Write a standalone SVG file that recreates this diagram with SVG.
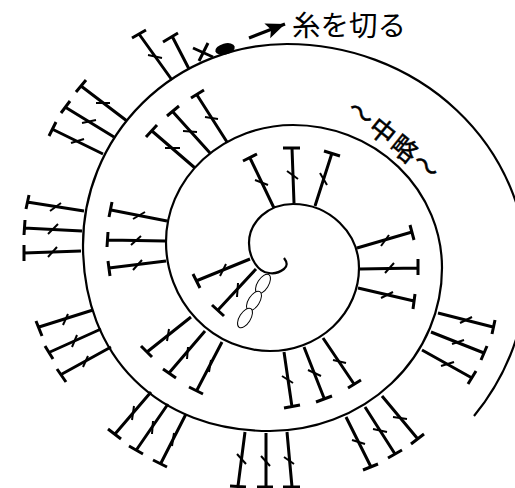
<svg xmlns="http://www.w3.org/2000/svg" width="515" height="488" viewBox="0 0 515 488">
<style>
.s{fill:none;stroke:#000;stroke-width:2.2}
.st{fill:none;stroke:#000;stroke-width:3}
.st2{fill:none;stroke:#000;stroke-width:2}
.ch{fill:#fff;stroke:#000;stroke-width:1}
text{font-family:"Noto Sans CJK JP","Noto Sans",sans-serif;fill:#000}
</style>
<defs>
<marker id="ah" markerUnits="userSpaceOnUse" markerWidth="24" markerHeight="24" refX="19" refY="10" orient="auto">
<path d="M19 10L0 2L4 10L0 18Z" fill="#000"/>
</marker>
</defs>
<rect width="515" height="488" fill="#fff"/>
<g id="connectors">
<path id="spiral" class="s" d="M284 258C287 262 288 266 284 269C280 272 274 274 269 273C258 272 249 258 249 243A44 39 0 0 1 293 204A66 64 0 0 1 359 268A89 83 0 0 1 270 351A104 109 0 0 1 166 242A127 117 0 0 1 293 125A149 143 0 0 1 442 268A172 163 0 0 1 270 431C158 431 83 357 83 245A204 201 0 0 1 287 44A240 226 0 0 1 527 270A257 240 0 0 1 474 416"/>
<path id="arrow" d="M249 38L285 24" fill="none" stroke="#000" stroke-width="3.2" marker-end="url(#ah)"/>
</g>
<g id="end-mark"><ellipse cx="225" cy="49" rx="10" ry="5.5" transform="rotate(-15 225 49)" fill="#000"/></g>
<g id="chain1"><ellipse class="ch" cx="263" cy="284" rx="11" ry="5.5" transform="rotate(-58 263 284)"/></g>
<g id="chain2"><ellipse class="ch" cx="254" cy="301" rx="11" ry="5.5" transform="rotate(-58 254 301)"/></g>
<g id="chain3"><ellipse class="ch" cx="245" cy="318" rx="11" ry="5.5" transform="rotate(-58 245 318)"/></g>
<g id="x1"><path class="st" d="M193 48L213 57M199 61L208 43" stroke-width="2.5"/></g>
<g id="s1"><path class="st" d="M172 80L139 34M132 38L146 30"/><path class="st2" d="M148 55L162 58"/></g>
<g id="s2"><path class="st" d="M189 69L172 36M163 42L178 33"/></g>
<g id="m1"><path class="st" d="M195 168L152 131M146 137L157 125"/><path class="st2" d="M165 148L180 148"/></g>
<g id="m2"><path class="st" d="M210 153L173 112M167 116L179 106"/><path class="st2" d="M183 131L197 132"/></g>
<g id="m3"><path class="st" d="M227 142L197 95M191 98L204 90"/><path class="st2" d="M205 117L218 119"/></g>
<g id="o1"><path class="st" d="M127 121L81 86M76 92L86 80"/><path class="st2" d="M96 103L110 103"/></g>
<g id="o2"><path class="st" d="M114 137L65 107M61 113L70 101"/><path class="st2" d="M82 123L96 120"/></g>
<g id="o3"><path class="st" d="M103 154L52 129M49 136L56 122"/><path class="st2" d="M71 143L84 139"/></g>
<g id="o4"><path class="st" d="M84 211L27 202M29 195L26 209"/><path class="st2" d="M50 211L61 203"/></g>
<g id="o5"><path class="st" d="M82 231L24 228M25 220L24 235"/><path class="st2" d="M48 234L58 224"/></g>
<g id="o6"><path class="st" d="M81 251L24 253M24 245L24 261"/><path class="st2" d="M48 257L57 247"/></g>
<g id="m4"><path class="st" d="M167 221L111 210M112 202L109 217"/><path class="st2" d="M133 219L145 212"/></g>
<g id="m5"><path class="st" d="M165 241L108 240M108 232L107 247"/><path class="st2" d="M131 245L141 236"/></g>
<g id="m6"><path class="st" d="M166 261L109 268M108 261L110 276"/><path class="st2" d="M133 270L142 260"/></g>
<g id="i1"><path class="st" d="M250 259L196 281M193 274L200 288"/><path class="st2" d="M220 276L226 264"/></g>
<g id="i2"><path class="st" d="M256 269L218 310M212 305L224 316"/><path class="st2" d="M237 297L238 283"/></g>
<g id="i3"><path class="st" d="M274 208L250 158M243 161L257 154"/><path class="st2" d="M255 180L268 185"/></g>
<g id="i4"><path class="st" d="M294 203L292 148M283 148L300 148"/><path class="st2" d="M287 171L298 179"/></g>
<g id="i5"><path class="st" d="M315 206L332 153M324 151L340 156"/><path class="st2" d="M320 173L327 185"/></g>
<g id="r1"><path class="st" d="M357 248L412 232M410 225L414 240"/><path class="st2" d="M381 246L389 235"/></g>
<g id="r2"><path class="st" d="M360 269L418 268M418 259L418 275"/><path class="st2" d="M385 273L394 263"/></g>
<g id="r3"><path class="st" d="M358 288L414 301M415 294L413 309"/><path class="st2" d="M381 298L393 292"/></g>
<g id="R1"><path class="st" d="M438 313L493 327M495 320L492 334"/><path class="st2" d="M460 323L472 317"/></g>
<g id="R2"><path class="st" d="M431 332L484 353M487 346L481 360"/><path class="st2" d="M452 344L464 340"/></g>
<g id="R3"><path class="st" d="M422 350L472 378M476 371L468 384"/><path class="st2" d="M441 366L454 362"/></g>
<g id="b1"><path class="st" d="M323 338L354 384M348 388L361 380"/><path class="st2" d="M333 360L346 363"/></g>
<g id="b2"><path class="st" d="M304 347L324 398M316 402L332 396"/><path class="st2" d="M308 370L321 376"/></g>
<g id="b3"><path class="st" d="M284 352L292 407M284 408L300 405"/><path class="st2" d="M282 376L293 383"/></g>
<g id="B1"><path class="st" d="M382 396L417 438M411 444L424 434"/><path class="st2" d="M393 417L407 419"/></g>
<g id="B2"><path class="st" d="M365 407L395 454M388 458L402 450"/><path class="st2" d="M373 429L387 432"/></g>
<g id="B3"><path class="st" d="M346 417L371 467M363 470L378 464"/><path class="st2" d="M352 440L365 444"/></g>
<g id="B4"><path class="st" d="M287 432L292 487M283 487L300 487"/><path class="st2" d="M284 457L294 464"/></g>
<g id="B5"><path class="st" d="M266 433L266 487M257 487L273 487"/><path class="st2" d="M261 456L270 466"/></g>
<g id="B6"><path class="st" d="M245 432L238 486M230 486L246 487"/><path class="st2" d="M237 454L246 464"/></g>
<g id="L1"><path class="st" d="M186 414L161 463M153 460L167 467"/><path class="st2" d="M174 433L172 446"/></g>
<g id="L2"><path class="st" d="M168 404L137 449M129 446L143 454"/><path class="st2" d="M153 421L152 434"/></g>
<g id="L3"><path class="st" d="M151 392L115 434M108 429L121 439"/><path class="st2" d="M134 406L132 420"/></g>
<g id="M1"><path class="st" d="M222 342L197 390M189 387L203 394"/><path class="st2" d="M211 360L209 372"/></g>
<g id="M2"><path class="st" d="M205 331L169 373M163 369L176 378"/><path class="st2" d="M188 347L187 359"/></g>
<g id="M3"><path class="st" d="M191 317L147 352M141 346L152 357"/><path class="st2" d="M169 329L167 341"/></g>
<g id="L4"><path class="st" d="M111 347L62 374M57 369L66 382"/><path class="st2" d="M88 356L83 367"/></g>
<g id="L5"><path class="st" d="M101 329L50 352M45 346L53 359"/><path class="st2" d="M77 335L72 347"/></g>
<g id="L6"><path class="st" d="M93 310L39 327M36 321L42 336"/><path class="st2" d="M68 314L63 325"/></g>
<g id="label-cut"><text x="292" y="36" font-size="28.5">糸を切る</text></g>
<g id="label-skip"><text transform="translate(394 141) rotate(39)" y="9" text-anchor="middle" font-size="26" letter-spacing="2" stroke="#000" stroke-width="0.5">〜中略〜</text></g>
</svg>
